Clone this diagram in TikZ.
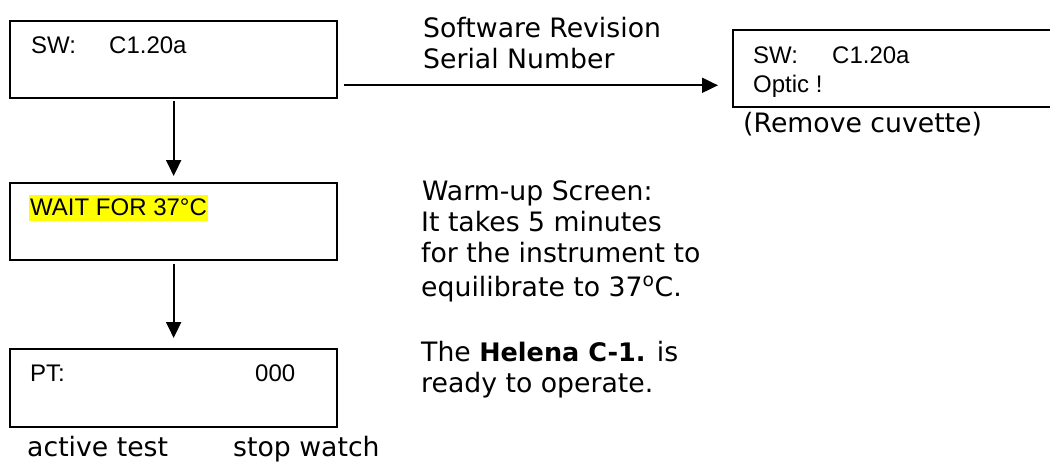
\documentclass[tikz,border=0pt]{standalone}
\usepackage{fontspec}
\setmainfont{DejaVu Sans}
\newfontfamily\arialf{Liberation Sans}
\usetikzlibrary{arrows.meta}
\tikzset{
  screen/.style={draw=black, line width=2.3pt, minimum width=327pt, minimum height=77pt, inner sep=0pt, anchor=north west},
  lcd/.style={font=\arialf\fontsize{24}{28}\selectfont, anchor=base west, inner sep=0pt},
  note/.style={font=\fontsize{26.7}{31}\selectfont, anchor=base west, inner sep=0pt},
  arr/.style={line width=2pt, -{Triangle[length=16pt,width=15pt]}}
}
\begin{document}
\begin{tikzpicture}[x=1pt,y=-1pt]
\clip (0,0) rectangle (1050,461);
\useasboundingbox (0,0) rectangle (1050,461);
% screens
\node[screen] (b1) at (9,20) {};
\node[screen] (b2) at (9,182) {};
\node[screen, minimum height=78pt] (b3) at (9,348) {};
\node[screen] (b4) at (732,29) {};
% screen texts
\node[lcd] (t1a) at (31,53) {SW:};
\node[lcd] (t1b) at (109,53) {C1.20a};
\node[lcd, fill={rgb,255:red,255;green,255;blue,0}, inner xsep=1pt, text height=20pt, text depth=6pt] (t2) at (29,215) {WAIT FOR 37°C};
\node[lcd] (t3a) at (30,381) {PT:};
\node[lcd] (t3b) at (255,381) {000};
\node[lcd] (t4a) at (753,63) {SW:};
\node[lcd] (t4b) at (832,63) {C1.20a};
\node[lcd] (t4c) at (753,92) {Optic !};
% notes
\node[note] (n1) at (423,37) {Software Revision};
\node[note] (n2) at (423,68) {Serial Number};
\node[note] (n3) at (743,132) {(Remove cuvette)};
\node[note] (w1) at (422,200) {Warm-up Screen:};
\node[note] (w2) at (421,231) {It takes 5 minutes};
\node[note] (w3) at (421,262) {for the instrument to};
\node[note] (w4) at (421,296) {equilibrate to 37\textsuperscript{o}C.};
\node[note] (h1) at (421,361) {The {\fontsize{25.5}{31}\selectfont\bfseries Helena C-1.} is};
\node[note] (h2) at (421,392) {ready to operate.};
\node[note] (a1) at (27,456) {active test};
\node[note] (a2) at (233,456) {stop watch};
% connectors
\draw[arr] ([yshift=-2pt]b1.south) -- ([yshift=6pt]b2.north);
\draw[arr] ([yshift=-3pt]b2.south) -- ([yshift=10pt]b3.north);
\coordinate (hs) at ([xshift=6pt,yshift=14pt]b1.south east);
\draw[arr] (hs) -- ([xshift=-14pt]hs -| b4.west);
\end{tikzpicture}
\end{document}
